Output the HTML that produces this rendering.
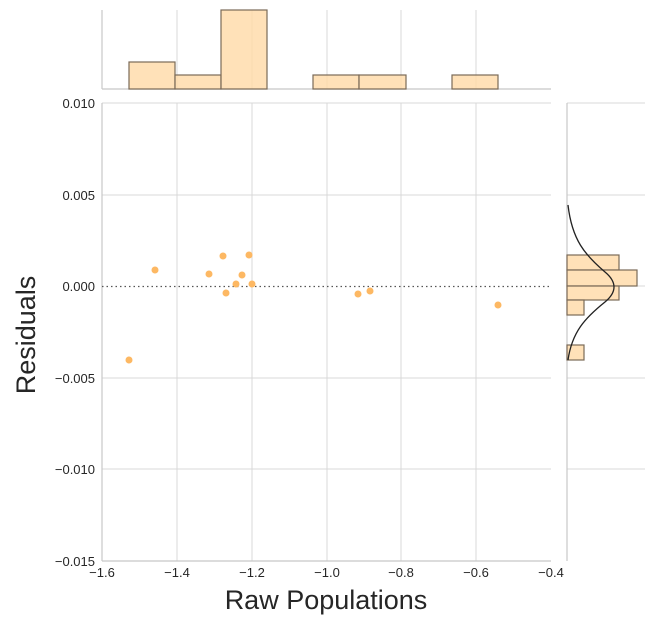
<!DOCTYPE html>
<html><head><style>html,body{margin:0;padding:0;background:#fff;}svg{display:block}</style></head>
<body>
<svg width="654" height="625" viewBox="0 0 654 625" xmlns="http://www.w3.org/2000/svg" font-family="Liberation Sans, sans-serif">
<rect width="654" height="625" fill="#fff"/>
<!-- main grid -->
<g stroke="#d9d9d9" stroke-width="1">
<line x1="177" y1="103" x2="177" y2="561"/><line x1="252" y1="103" x2="252" y2="561"/>
<line x1="327" y1="103" x2="327" y2="561"/><line x1="401" y1="103" x2="401" y2="561"/>
<line x1="476" y1="103" x2="476" y2="561"/>
<line x1="102" y1="103" x2="551" y2="103"/><line x1="102" y1="195" x2="551" y2="195"/>
<line x1="102" y1="378" x2="551" y2="378"/><line x1="102" y1="469" x2="551" y2="469"/>
<!-- top panel grid -->
<line x1="177" y1="10" x2="177" y2="89"/><line x1="252" y1="10" x2="252" y2="89"/>
<line x1="327" y1="10" x2="327" y2="89"/><line x1="401" y1="10" x2="401" y2="89"/>
<line x1="476" y1="10" x2="476" y2="89"/>
<!-- right panel grid -->
<line x1="567" y1="103" x2="645" y2="103"/><line x1="567" y1="195" x2="645" y2="195"/>
<line x1="567" y1="286" x2="645" y2="286"/><line x1="567" y1="378" x2="645" y2="378"/>
<line x1="567" y1="469" x2="645" y2="469"/>
</g>
<!-- axes -->
<g stroke="#c8c8c8" stroke-width="1.2">
<line x1="102" y1="103" x2="102" y2="561"/><line x1="102" y1="561" x2="551" y2="561"/>
<line x1="102" y1="10" x2="102" y2="89"/><line x1="102" y1="89" x2="551" y2="89"/>
<line x1="567" y1="103" x2="567" y2="561"/>
</g>
<line x1="102" y1="286.5" x2="551" y2="286.5" stroke="#555" stroke-width="1.2" stroke-dasharray="1.5,3"/>
<!-- top hist -->
<g fill="#ffd9a6" fill-opacity="0.8" stroke="#7a6a58" stroke-width="1.2">
<rect x="129" y="62" width="46" height="27"/><rect x="175" y="75" width="46" height="14"/>
<rect x="221" y="10" width="46" height="79"/><rect x="313" y="75" width="46" height="14"/>
<rect x="359" y="75" width="47" height="14"/><rect x="452" y="75" width="46" height="14"/>
</g>
<!-- right hist -->
<g fill="#ffd9a6" fill-opacity="0.8" stroke="#7a6a58" stroke-width="1.2">
<rect x="567" y="255" width="52" height="15"/><rect x="567" y="270" width="70" height="16"/>
<rect x="567" y="286" width="52" height="14"/><rect x="567" y="300" width="17" height="15"/>
<rect x="567" y="345" width="17" height="15"/>
</g>
<path d="M568,205 C572,240 585,255 605,272 C617,282 617,292 605,302 C585,318 572,332 568,360" fill="none" stroke="#222" stroke-width="1.3"/>
<!-- points -->
<g fill="#fdb863">
<circle cx="129" cy="360" r="3.5"/><circle cx="155" cy="270" r="3.5"/><circle cx="209" cy="274" r="3.5"/>
<circle cx="223" cy="256" r="3.5"/><circle cx="226" cy="293" r="3.5"/><circle cx="236" cy="284" r="3.5"/>
<circle cx="242" cy="275" r="3.5"/><circle cx="249" cy="255" r="3.5"/><circle cx="252" cy="284" r="3.5"/>
<circle cx="358" cy="294" r="3.5"/><circle cx="370" cy="291" r="3.5"/><circle cx="498" cy="305" r="3.5"/>
</g>
<!-- tick labels -->
<g font-size="13" fill="#262626" text-anchor="end">
<text x="95" y="108">0.010</text><text x="95" y="200">0.005</text><text x="95" y="291">0.000</text>
<text x="95" y="383">−0.005</text><text x="95" y="474">−0.010</text><text x="95" y="566">−0.015</text>
</g>
<g font-size="13" fill="#262626" text-anchor="middle">
<text x="102" y="577">−1.6</text><text x="177" y="577">−1.4</text><text x="252" y="577">−1.2</text>
<text x="327" y="577">−1.0</text><text x="401" y="577">−0.8</text><text x="476" y="577">−0.6</text>
<text x="551" y="577">−0.4</text>
</g>
<text x="326" y="609" font-size="27" fill="#262626" text-anchor="middle">Raw Populations</text>
<text transform="translate(35,335) rotate(-90)" font-size="27" fill="#262626" text-anchor="middle">Residuals</text>
</svg>
</body></html>
